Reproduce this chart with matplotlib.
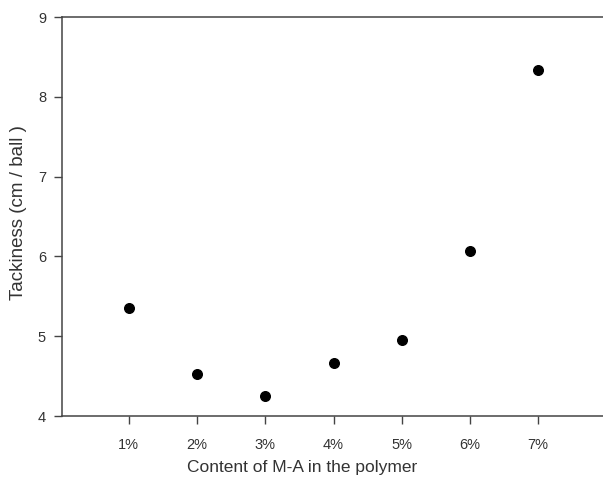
import matplotlib
matplotlib.use("Agg")
import matplotlib.pyplot as plt

# 数据
content = ["1%", "2%", "3%", "4%", "5%", "6%", "7%"]
tackiness = [5.35, 4.53, 4.25, 4.67, 4.95, 6.07, 8.33]

plt.rcParams['font.family'] = ['Liberation Sans', 'DejaVu Sans']

fig = plt.figure(figsize=(6.03, 4.83), dpi=100)
ax = fig.add_axes([0.1028, 0.1387, 0.8972, 0.8261])

x = list(range(1, len(content) + 1))
ax.scatter(x, tackiness, s=48, color='black', zorder=3)

ax.set_xlim(0.02, 7.95)
ax.set_ylim(4, 9)
ax.set_xticks(x)
ax.set_xticklabels(content)
ax.set_yticks([4, 5, 6, 7, 8, 9])

ax.spines['right'].set_visible(False)
for s in ['left', 'bottom', 'top']:
    ax.spines[s].set_color('#444444')
    ax.spines[s].set_linewidth(1.1)

ax.tick_params(axis='both', direction='out', length=5.5, width=1.0, color='#444444',
               labelsize=10.5, labelcolor='#333333')
ax.tick_params(axis='x', pad=10)
ax.tick_params(axis='y', pad=6)

ax.set_xlabel('Content of M-A in the polymer', fontsize=12.5, color='#333333', va='center')
ax.set_ylabel('Tackiness (cm / ball )', fontsize=13.5, color='#333333', va='center')
ax.xaxis.set_label_coords(0.444, -0.13)
ax.yaxis.set_label_coords(-0.08, 0.511)

fig.savefig('out.png', dpi=100)
